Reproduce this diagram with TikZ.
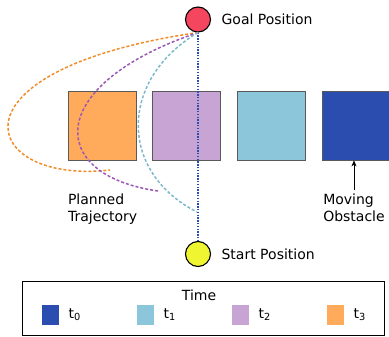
\documentclass[tikz,border=0pt]{standalone}
\usepackage{fontspec}
\setmainfont{DejaVu Sans}
\usepackage{tikz}
\usetikzlibrary{arrows.meta}
\usetikzlibrary {positioning}
\usetikzlibrary{calc}

\definecolor{cred}{RGB}{245,70,95}
\definecolor{cyellow}{RGB}{240,245,50}
\definecolor{tzero}{RGB}{43,77,175}
\definecolor{tone}{RGB}{139,198,219}
\definecolor{ttwo}{RGB}{200,164,212}
\definecolor{tthree}{RGB}{255,171,91}
\definecolor{lone}{RGB}{125,185,205}
\definecolor{ltwo}{RGB}{155,89,182}
\definecolor{lthree}{RGB}{242,140,40}

\begin{document}
\begin{tikzpicture}[x = 1pt, y = -1pt, font = \fontsize{14}{16.8}\selectfont, node distance = 16pt, spot/.style = {circle, draw = black, line width = 1.1pt, minimum size = 25pt, inner sep = 0pt}, obst/.style = {draw = black!65, line width = 0.9pt, minimum width = 68pt, minimum height = 69pt, inner sep = 0pt}, swatch/.style = {draw = white, minimum width = 18pt, minimum height = 21pt, inner sep = 0pt}, traj/.style = {line width = 1.5pt, dash pattern = on 3pt off 2pt}]
	\useasboundingbox (0,0) rectangle (389,337);
	\node[spot, fill = cred] (G) at (198,19.5) {};
	\node[spot, fill = cyellow] (S) at (198,254) {};
	\node[right = 7pt of G] {Goal Position};
	\node[right = 7pt of S] {Start Position};
	\node[obst, fill = tthree] (B3) at (102,125.5) {};
	\node[obst, fill = ttwo] (B2) [right = of B3] {};
	\node[obst, fill = tone] (B1) [right = of B2] {};
	\node[obst, fill = tzero] (B0) [right = of B1] {};
	\node[align = left] (M) at (354,207.5) {Moving\\Obstacle};
	\node[align = left, anchor = west] (P) at (64.5,209) {Planned\\Trajectory};
	\coordinate (E3) at (110,170);
	\coordinate (E2) at (158,191);
	\coordinate (E1) at (197,212);
	\draw[line width = 1.2pt, tzero, dash pattern = on 1.4pt off 1.4pt] (G) -- (S);
	\draw[traj, lthree] (G.south) .. controls (-60,70) and (-20,185) .. (E3);
	\draw[traj, ltwo] (G.south) .. controls (45,84) and (45,175) .. (E2);
	\draw[traj, lone] (G.south) .. controls (118.5,80) and (118.5,172) .. (E1);
	\draw[semithick, -{Stealth[length = 6pt, width = 5pt]}] (M.north) -- (M.north |- B0.south);
	\node[draw = black, line width = 1pt, minimum width = 362pt, minimum height = 54pt, inner sep = 0pt] (L) at (203,308) {};
	\node (T) at (199,295) {Time};
	\foreach \c [count = \k from 0] in {tzero, tone, ttwo, tthree} {
		\node[swatch, fill = \c] (W\k) at (50 + 95*\k,314.5) {};
		\node[right = 6pt of W\k] {t\textsubscript{\k}};
	}
\end{tikzpicture}
\end{document}
